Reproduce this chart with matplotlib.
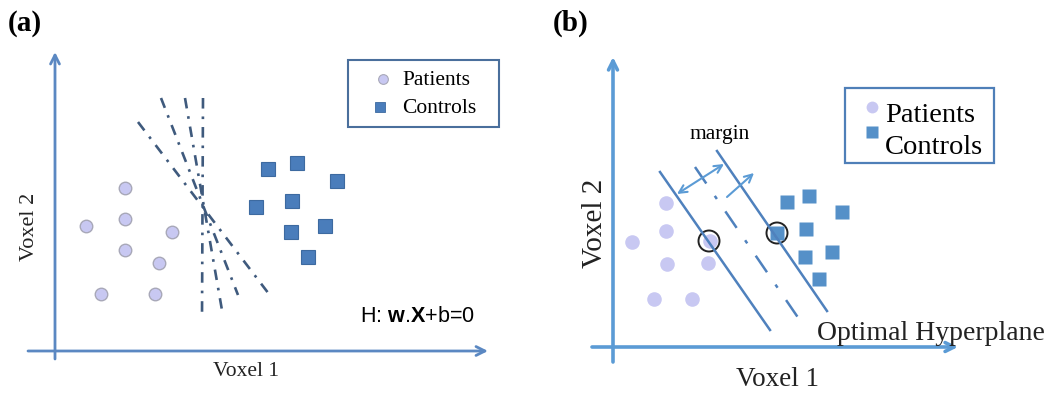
import matplotlib
matplotlib.use("Agg")
import matplotlib.pyplot as plt
from matplotlib.patches import Rectangle, Circle

plt.rcParams['mathtext.fontset'] = 'custom'
plt.rcParams['mathtext.bf'] = 'Liberation Sans:bold'
plt.rcParams['mathtext.rm'] = 'Liberation Sans'

# ---- data (pixel-space diagram coordinates) ----
# Panel (a)
a_patients_x = [125, 125, 86, 172, 125, 159, 101, 155]
a_patients_y = [188, 219, 226, 232, 250, 263, 294, 294]
a_controls_x = [268, 297, 337, 256, 292, 325, 291, 308]
a_controls_y = [169, 163, 181, 207, 201, 226, 232, 257]
a_lines_x0 = [203, 185, 161, 138]
a_lines_y0 = [98, 98, 98, 122]
a_lines_x1 = [202, 223, 238, 272]
a_lines_y1 = [318, 316, 295, 298]

# Panel (b)
b_patients_x = [666, 666, 632, 710, 667, 708, 654, 692]
b_patients_y = [203, 231, 242, 241, 264, 263, 299, 299]
b_controls_x = [787, 809, 842, 806, 777, 832, 805, 819]
b_controls_y = [202, 196, 212, 229, 233, 252, 257, 279]
b_support_x = [709, 777]
b_support_y = [241, 233]
b_solid_x0 = [660, 717]
b_solid_y0 = [172, 151]
b_solid_x1 = [770, 827]
b_solid_y1 = [330, 311]
b_mid_x = [695, 799]
b_mid_y = [167, 319]

W, H = 1061, 394
fig = plt.figure(figsize=(W / 100, H / 100), dpi=100)
ax = fig.add_axes([0, 0, 1, 1])
ax.set_xlim(0, W)
ax.set_ylim(H, 0)
ax.axis('off')

SERIF = 'Liberation Serif'
SANS = 'Liberation Sans'

axis_a = '#5b88c2'
axis_b = '#5b9bd5'
line_a = '#3f5a7d'
line_b = '#4f81bd'
pat_col = '#c8c8f2'
ctl_col = '#4f81bd'


def arrow(x0, y0, x1, y1, color, lw, ms=16, style='->'):
    ax.annotate('', xy=(x1, y1), xytext=(x0, y0),
                arrowprops=dict(arrowstyle=style, color=color, lw=lw,
                                mutation_scale=ms, shrinkA=0, shrinkB=0))


# ---------------- Panel (a) ----------------
ax.text(8, 23, '(a)', fontfamily=SERIF, fontweight='bold', fontsize=21,
        va='center', ha='left')
arrow(55, 359, 55, 52, axis_a, 2.0)
arrow(28, 351, 488, 351, axis_a, 2.0)
ax.text(30, 227, 'Voxel 2', fontfamily=SERIF, fontsize=16, rotation=90,
        va='center', ha='center', color='#222222')
ax.text(246, 372, 'Voxel 1', fontfamily=SERIF, fontsize=15.5,
        va='center', ha='center', color='#222222')

for x0, y0, x1, y1 in zip(a_lines_x0, a_lines_y0, a_lines_x1, a_lines_y1):
    ax.plot([x0, x1], [y0, y1], color=line_a, lw=1.9,
            linestyle=(0, (4, 3, 1, 3)))

ax.plot(a_patients_x, a_patients_y, 'o', ms=9, mfc=pat_col, mec='#a8a8b8',
        mew=1.0, ls='none')
ax.plot(a_controls_x, a_controls_y, 's', ms=9.5, mfc='#4a7dbb', mec='#3d6aa0',
        mew=0.8, ls='none')

ax.add_patch(Rectangle((348, 60), 151, 67, fill=False, ec='#4a6f9c', lw=1.5))
ax.plot([383], [79], 'o', ms=7, mfc=pat_col, mec='#a8a8b8', mew=0.8)
ax.plot([380], [107], 's', ms=7, mfc='#4a7dbb', mec='#3d6aa0', mew=0.6)
ax.text(402, 80, 'Patients', fontfamily=SERIF, fontsize=15.5, va='center')
ax.text(402, 108, 'Controls', fontfamily=SERIF, fontsize=15.5, va='center')

ax.text(360, 316, r'H: $\mathbf{w}$.$\mathbf{X}$+b=0', fontfamily=SANS,
        fontsize=15.5, va='center', ha='left')

# ---------------- Panel (b) ----------------
ax.text(553, 23, '(b)', fontfamily=SERIF, fontweight='bold', fontsize=21,
        va='center', ha='left')
arrow(613, 362, 613, 57, axis_b, 2.6)
arrow(592, 347, 958, 347, axis_b, 2.6)
ax.text(595, 223, 'Voxel 2', fontfamily=SERIF, fontsize=21, rotation=90,
        va='center', ha='center', color='#222222')
ax.text(778, 379, 'Voxel 1', fontfamily=SERIF, fontsize=19.5,
        va='center', ha='center', color='#222222')

ax.plot(b_patients_x, b_patients_y, 'o', ms=10.5, mfc=pat_col, mec='none',
        ls='none')
ax.plot(b_controls_x, b_controls_y, 's', ms=10.5, mfc='#5590c8', mec='none',
        ls='none')

for x0, y0, x1, y1 in zip(b_solid_x0, b_solid_y0, b_solid_x1, b_solid_y1):
    ax.plot([x0, x1], [y0, y1], color=line_b, lw=1.8)
ax.plot(b_mid_x, b_mid_y, color=line_b, lw=1.8,
        linestyle=(0, (8, 6, 1.5, 6)))

for cx, cy in zip(b_support_x, b_support_y):
    ax.add_patch(Circle((cx, cy), 10.5, fill=False, ec='#222222', lw=1.4))

arrow(677, 194, 724, 164, '#5b9bd5', 1.5, ms=14, style='<->')
arrow(727, 197, 754, 173, '#5b9bd5', 1.5, ms=14, style='->')
ax.text(720, 134, 'margin', fontfamily=SERIF, fontsize=15.5,
        va='center', ha='center')

ax.add_patch(Rectangle((845, 88), 149, 75, fill=False, ec='#4f7fb8', lw=1.6))
ax.plot([872], [107], 'o', ms=8.5, mfc=pat_col, mec='none')
ax.plot([872], [132], 's', ms=8.5, mfc='#5590c8', mec='none')
ax.text(885, 115, 'Patients', fontfamily=SERIF, fontsize=20.5, va='center')
ax.text(885, 147, 'Controls', fontfamily=SERIF, fontsize=20.5, va='center')

ax.text(817, 333, 'Optimal Hyperplane', fontfamily=SERIF, fontsize=20,
        va='center', ha='left', color='#222222')

fig.savefig('out.png', dpi=100)
